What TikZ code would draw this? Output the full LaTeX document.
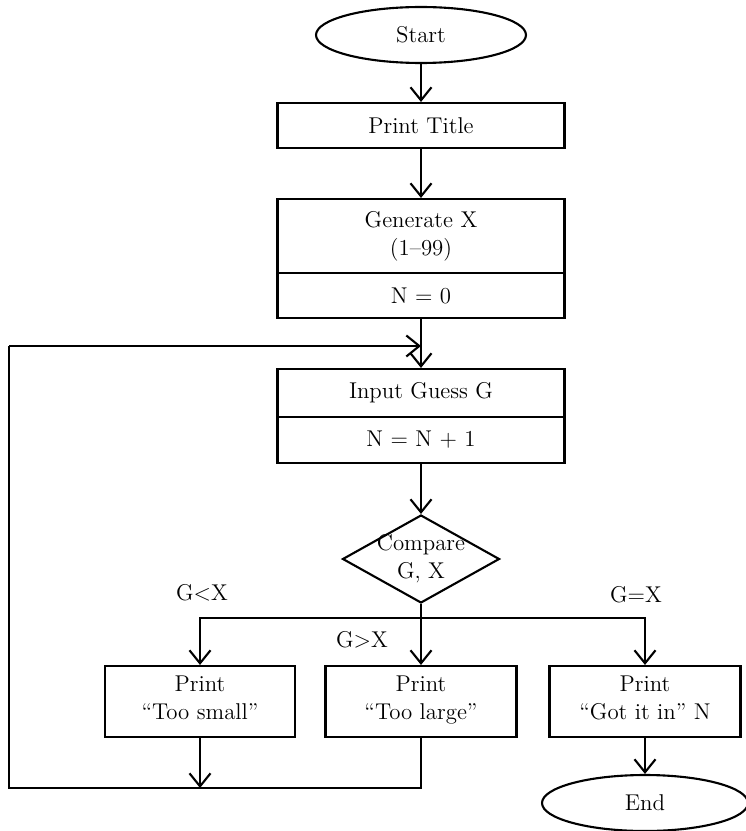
\documentclass[tikz,border=0pt]{standalone}
\usepackage{tikz}
\usetikzlibrary{shapes.geometric,arrows.meta}

\begin{document}
\begin{tikzpicture}[x=0.02cm, y=-0.02cm, line width=1.2pt,
  every node/.style={font=\fontsize{13}{16}\selectfont},
  boite/.style={draw, rectangle, inner sep=2pt, align=center, minimum width=5.74cm},
  petite/.style={draw, rectangle, inner sep=2pt, align=center, minimum width=3.82cm, minimum height=1.42cm},
  terminal/.style={draw, ellipse, minimum width=4.2cm, minimum height=1.12cm},
  test/.style={draw, diamond, aspect=1.78, inner sep=-4pt, align=center, minimum width=3.14cm, minimum height=1.76cm},
  fleche/.style={-{Straight Barb[length=2.6mm,width=4.2mm]}}]
  \useasboundingbox (0,0) rectangle (746,831);

  % Dessinez le début et l'initialisation
  \node[terminal] (start) at (421,35) {Start};
  \node[boite, minimum height=0.9cm] (title) at (421,125.5) {Print Title};
  \node[boite, minimum height=1.48cm] (gen) at (421,236) {Generate X\\(1–99)};
  \node[boite, minimum height=0.9cm] (nzero) at (421,295.5) {N = 0};

  % Dessinez la saisie et le test
  \node[boite, minimum height=0.96cm] (guess) at (421,393) {Input Guess G};
  \node[boite, minimum height=0.92cm] (ninc) at (421,440) {N = N + 1};
  \node[test] (cmp) at (421,559) {Compare\\G, X};

  % Ajoutez les trois sorties
  \node[petite, minimum width=3.8cm] (small) at (200,701.5) {Print\\“Too small”\strut};
  \node[petite] (large) at (421,701.5) {Print\\“Too large”\strut};
  \node[petite] (got) at (645,701.5) {Print\\“Got it in” N\strut};
  \node[terminal, minimum width=4.12cm] (end) at (645,803) {End};

  % Ajoutez les étiquettes des branches
  \node (lt) at (202,593) {G<X};
  \node (gt) at (362,640) {G>X};
  \node (eq) at (636,595) {G=X};

  % Points de la boucle
  \coordinate (fork) at (421,618);
  \coordinate (bas) at (9,788);
  \coordinate (haut) at (9,346);
  \coordinate (entree) at (421,346);

  % Dessinez les flèches
  \draw[fleche] (start) -- (title);
  \draw[fleche] (title) -- (gen);
  \draw[fleche] (nzero) -- (guess);
  \draw[fleche] (ninc) -- (cmp);
  \draw (cmp.south) -- (fork);
  \draw[fleche] (fork) -| (small.north);
  \draw[fleche] (fork) -- (large.north);
  \draw[fleche] (fork) -| (got.north);
  \draw[fleche] (got) -- (end);
  \draw[fleche] (small.south) -- (small.south |- bas);
  \draw (large.south) |- (bas) -- (haut);
  \draw[fleche] (haut) -- (entree);
\end{tikzpicture}
\end{document}
